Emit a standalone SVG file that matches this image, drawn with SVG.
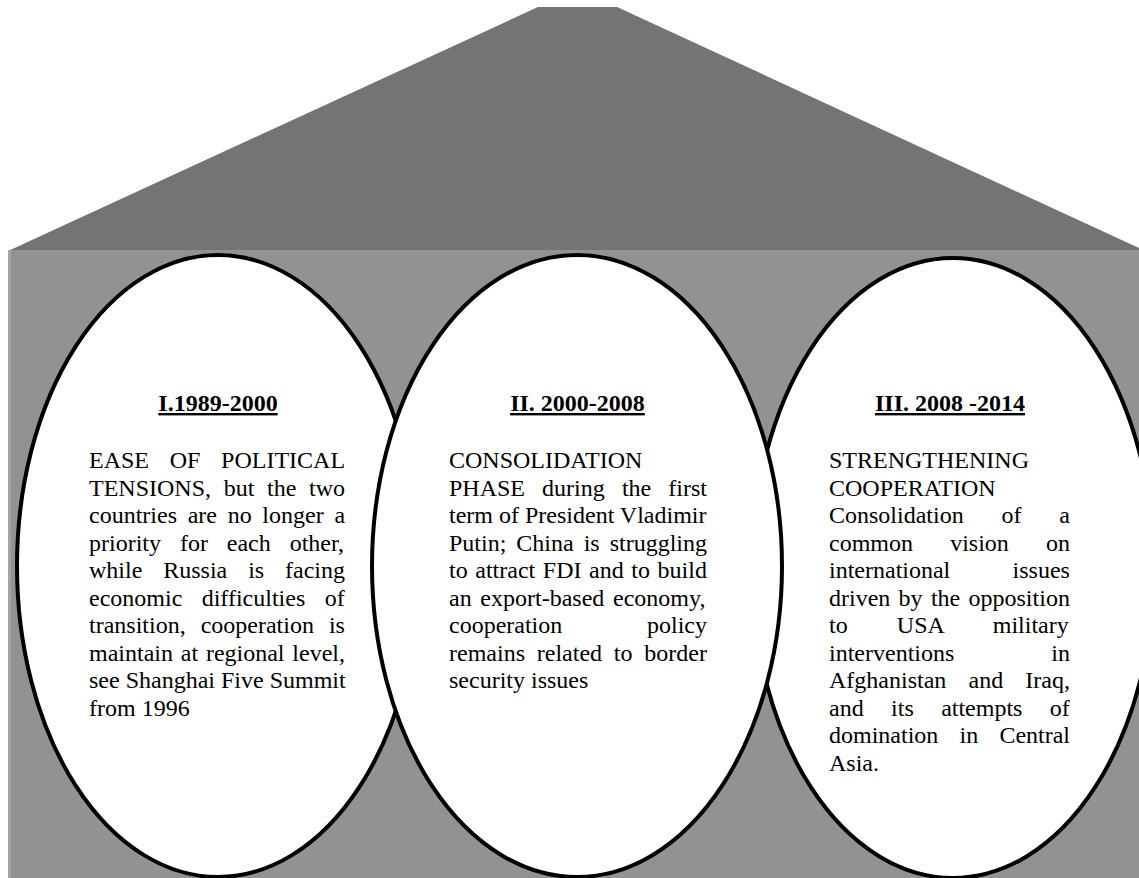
<svg xmlns="http://www.w3.org/2000/svg" width="1139" height="878" viewBox="0 0 1139 878">
<style>
.bg{fill:#ffffff}
.roof{fill:#747474}
.body{fill:#929292}
.edge{fill:#a4a4a4}
.oval{fill:#ffffff;stroke:#000000;stroke-width:4}
text{font-family:"Liberation Serif","Times New Roman",serif;font-size:24px;fill:#000000}
.h{font-weight:bold;text-decoration:underline;text-anchor:middle}
</style>
<rect class="bg" x="0" y="0" width="1139" height="878"/>
<g id="house">
<polygon class="roof" points="8,251 538,7 617,7 1139,248 1139,251"/>
<rect class="body" x="8" y="250" width="1131" height="628"/>
<rect class="edge" x="8" y="250" width="3" height="628"/>
</g>
<g id="phase1">
<ellipse class="oval" cx="218" cy="566" rx="201" ry="311"/>
</g>
<g id="phase3">
<ellipse class="oval" cx="953" cy="568" rx="201" ry="310"/>
</g>
<g id="phase2">
<ellipse class="oval" cx="577" cy="566" rx="205" ry="311"/>
</g>
<g id="connectors"></g>
<g id="text1">
<text class="h" x="218" y="411">I.1989-2000</text>
<text x="89" y="468" style="word-spacing:14.7px">EASE OF POLITICAL</text>
<text x="89" y="495.5" style="word-spacing:6.7px">TENSIONS, but the two</text>
<text x="89" y="523" style="word-spacing:4.7px">countries are no longer a</text>
<text x="89" y="550.5" style="word-spacing:12.9px">priority for each other,</text>
<text x="89" y="578" style="word-spacing:14.9px">while Russia is facing</text>
<text x="89" y="605.5" style="word-spacing:13.4px">economic difficulties of</text>
<text x="89" y="633" style="word-spacing:9px">transition, cooperation is</text>
<text x="89" y="660.5" style="word-spacing:1.8px">maintain at regional level,</text>
<text x="89" y="688">see Shanghai Five Summit</text>
<text x="89" y="715.5">from 1996</text>
</g>
<g id="text2">
<text class="h" x="577.5" y="411">II. 2000-2008</text>
<text x="449" y="468">CONSOLIDATION</text>
<text x="449" y="495.5" style="word-spacing:11.1px">PHASE during the first</text>
<text x="449" y="523">term of President Vladimir</text>
<text x="449" y="550.5" style="word-spacing:4px">Putin; China is struggling</text>
<text x="449" y="578" style="word-spacing:1.6px">to attract FDI and to build</text>
<text x="449" y="605.5" style="word-spacing:2.7px">an export-based economy,</text>
<text x="449" y="633" style="word-spacing:78.7px">cooperation policy</text>
<text x="449" y="660.5" style="word-spacing:5.8px">remains related to border</text>
<text x="449" y="688">security issues</text>
</g>
<g id="text3">
<text class="h" x="950" y="411">III. 2008 -2014</text>
<text x="829" y="468">STRENGTHENING</text>
<text x="829" y="495.5">COOPERATION</text>
<text x="829" y="523" style="word-spacing:31.8px">Consolidation of a</text>
<text x="829" y="550.5" style="word-spacing:31.2px">common vision on</text>
<text x="829" y="578" style="word-spacing:56.3px">international issues</text>
<text x="829" y="605.5" style="word-spacing:2.3px">driven by the opposition</text>
<text x="829" y="633" style="word-spacing:43.2px">to USA military</text>
<text x="829" y="660.5" style="word-spacing:91px">interventions in</text>
<text x="829" y="688" style="word-spacing:16.2px">Afghanistan and Iraq,</text>
<text x="829" y="715.5" style="word-spacing:21.4px">and its attempts of</text>
<text x="829" y="743" style="word-spacing:15.2px">domination in Central</text>
<text x="829" y="770.5">Asia.</text>
</g>
</svg>
